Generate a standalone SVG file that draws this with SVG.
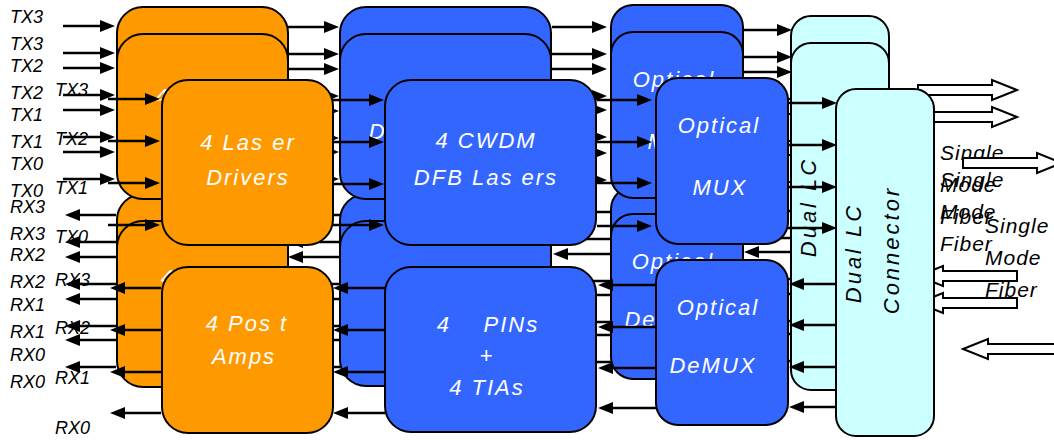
<svg xmlns="http://www.w3.org/2000/svg" width="1054" height="440" viewBox="0 0 1054 440">
<defs>
<style>
.o{fill:#FF9900;stroke:#000;stroke-width:2}
.b{fill:#3366FF;stroke:#000;stroke-width:2}
.c{fill:#CCFFFF;stroke:#000;stroke-width:2}
.a{stroke:#000;stroke-width:2.5;fill:none;marker-end:url(#ah)}
.h{fill:#fff;stroke:#000;stroke-width:2}
.t{font-family:"Liberation Sans",Arial,sans-serif;font-style:italic;font-size:22px;fill:#fff;text-anchor:middle;letter-spacing:2px;white-space:pre}
.v{font-family:"Liberation Sans",Arial,sans-serif;font-style:italic;font-size:22px;fill:#000;text-anchor:middle;letter-spacing:3px}
.l{font-family:"Liberation Sans",Arial,sans-serif;font-style:italic;font-size:18px;fill:#000}
.f{font-family:"Liberation Sans",Arial,sans-serif;font-style:italic;font-size:21px;fill:#000;letter-spacing:1px}
</style>
<marker id="ah" markerWidth="15" markerHeight="12" refX="5" refY="6" orient="auto" markerUnits="userSpaceOnUse"><path d="M0,0 L15,6 L0,12 z" fill="#000"/></marker>
</defs>
<rect width="1054" height="440" fill="#fff"/>

<g id="layer-back" transform="translate(-45,-73)">
<g id="back-labels"><text class="l" x="55" y="96">TX3</text><text class="l" x="55" y="145">TX2</text><text class="l" x="55" y="194">TX1</text><text class="l" x="55" y="243">TX0</text><text class="l" x="55" y="286">RX3</text><text class="l" x="55" y="334">RX2</text><text class="l" x="55" y="384">RX1</text><text class="l" x="55" y="434">RX0</text></g>
<g id="back-laser-drivers"><rect class="o" x="162" y="80" width="171" height="165" rx="26"/><text class="t" x="248" y="150">4 Las er</text><text class="t" x="248" y="185">Drivers</text></g>
<g id="back-post-amps"><rect class="o" x="162" y="267" width="171" height="166" rx="26"/><text class="t" x="247" y="331">4 Pos t</text><text class="t" x="244" y="364">Amps</text></g>
<g id="back-cwdm-lasers"><rect class="b" x="385" y="80" width="211" height="165" rx="26"/><text class="t" x="486" y="148">4 CWDM</text><text class="t" x="486" y="185">DFB Las ers</text></g>
<g id="back-pins-tias"><rect class="b" x="385" y="267" width="211" height="165" rx="26"/><text class="t" x="488" y="332" xml:space="preserve">4    PINs</text><text class="t" x="487" y="363">+</text><text class="t" x="487" y="395">4 TIAs</text></g>
<g id="back-optical-mux"><rect class="b" x="656" y="78" width="132" height="166" rx="22"/><text class="t" x="719" y="133">Optical</text><text class="t" x="720" y="195">MUX</text></g>
<g id="back-optical-demux"><rect class="b" x="656" y="260" width="132" height="165" rx="22"/><text class="t" x="718" y="315">Optical</text><text class="t" x="713" y="373">DeMUX</text></g>
<g id="back-dual-lc"><rect class="c" x="836" y="89" width="98" height="347" rx="20"/><text class="v" transform="translate(861,253) rotate(-90)">Dual LC</text><text class="v" transform="translate(899,250) rotate(-90)">Connector</text></g>
<g id="back-fiber"><text class="f" x="985" y="233">Single</text><text class="f" x="985" y="265">Mode</text><text class="f" x="985" y="297">Fiber</text></g>
<g id="back-connectors">
<line class="a" x1="108" y1="99" x2="150" y2="99"/><line class="a" x1="108" y1="141" x2="150" y2="141"/><line class="a" x1="108" y1="183" x2="150" y2="183"/><line class="a" x1="108" y1="225" x2="150" y2="225"/>
<line class="a" x1="161" y1="288" x2="120" y2="288"/><line class="a" x1="161" y1="330" x2="120" y2="330"/><line class="a" x1="161" y1="372" x2="120" y2="372"/><line class="a" x1="161" y1="413" x2="120" y2="413"/>
<line class="a" x1="333" y1="100" x2="374" y2="100"/><line class="a" x1="333" y1="142" x2="374" y2="142"/><line class="a" x1="333" y1="184" x2="374" y2="184"/><line class="a" x1="333" y1="225" x2="374" y2="225"/>
<line class="a" x1="385" y1="288" x2="343" y2="288"/><line class="a" x1="385" y1="330" x2="343" y2="330"/><line class="a" x1="385" y1="372" x2="343" y2="372"/><line class="a" x1="385" y1="413" x2="343" y2="413"/>
<line class="a" x1="597" y1="100" x2="642" y2="100"/><line class="a" x1="597" y1="142" x2="642" y2="142"/><line class="a" x1="597" y1="183" x2="642" y2="183"/><line class="a" x1="597" y1="226" x2="642" y2="226"/>
<line class="a" x1="656" y1="285" x2="608" y2="285"/><line class="a" x1="656" y1="327" x2="608" y2="327"/><line class="a" x1="656" y1="368" x2="608" y2="368"/><line class="a" x1="656" y1="408" x2="608" y2="408"/>
<line class="a" x1="788" y1="103" x2="827" y2="103"/><line class="a" x1="788" y1="145" x2="827" y2="145"/><line class="a" x1="788" y1="187" x2="827" y2="187"/><line class="a" x1="788" y1="228" x2="827" y2="228"/>
<line class="a" x1="836" y1="284" x2="799" y2="284"/><line class="a" x1="836" y1="325" x2="799" y2="325"/><line class="a" x1="836" y1="367" x2="799" y2="367"/><line class="a" x1="836" y1="407" x2="799" y2="407"/>
<polygon class="h" points="963,158 1037,158 1037,153 1062,163 1037,173 1037,168 963,168"/>
<polygon class="h" points="963,349 988,339 988,344 1062,344 1062,354 988,354 988,359"/>
</g>
</g>

<g id="layer-middle" transform="translate(-45,-46)">
<g id="mid-labels"><text class="l" x="55" y="96">TX3</text><text class="l" x="55" y="145">TX2</text><text class="l" x="55" y="194">TX1</text><text class="l" x="55" y="243">TX0</text><text class="l" x="55" y="286">RX3</text><text class="l" x="55" y="334">RX2</text><text class="l" x="55" y="384">RX1</text><text class="l" x="55" y="434">RX0</text></g>
<g id="mid-laser-drivers"><rect class="o" x="162" y="80" width="171" height="165" rx="26"/><text class="t" x="248" y="150">4 Las er</text><text class="t" x="248" y="185">Drivers</text></g>
<g id="mid-post-amps"><rect class="o" x="162" y="267" width="171" height="166" rx="26"/><text class="t" x="247" y="331">4 Pos t</text><text class="t" x="244" y="364">Amps</text></g>
<g id="mid-cwdm-lasers"><rect class="b" x="385" y="80" width="211" height="165" rx="26"/><text class="t" x="486" y="148">4 CWDM</text><text class="t" x="486" y="185">DFB Las ers</text></g>
<g id="mid-pins-tias"><rect class="b" x="385" y="267" width="211" height="165" rx="26"/><text class="t" x="488" y="332" xml:space="preserve">4    PINs</text><text class="t" x="487" y="363">+</text><text class="t" x="487" y="395">4 TIAs</text></g>
<g id="mid-optical-mux"><rect class="b" x="656" y="78" width="132" height="166" rx="22"/><text class="t" x="719" y="133">Optical</text><text class="t" x="720" y="195">MUX</text></g>
<g id="mid-optical-demux"><rect class="b" x="656" y="260" width="132" height="165" rx="22"/><text class="t" x="718" y="315">Optical</text><text class="t" x="713" y="373">DeMUX</text></g>
<g id="mid-dual-lc"><rect class="c" x="836" y="89" width="98" height="347" rx="20"/><text class="v" transform="translate(861,253) rotate(-90)">Dual LC</text><text class="v" transform="translate(899,250) rotate(-90)">Connector</text></g>
<g id="mid-fiber"><text class="f" x="985" y="233">Single</text><text class="f" x="985" y="265">Mode</text><text class="f" x="985" y="297">Fiber</text></g>
<g id="mid-connectors">
<line class="a" x1="108" y1="99" x2="150" y2="99"/><line class="a" x1="108" y1="141" x2="150" y2="141"/><line class="a" x1="108" y1="183" x2="150" y2="183"/><line class="a" x1="108" y1="225" x2="150" y2="225"/>
<line class="a" x1="161" y1="288" x2="120" y2="288"/><line class="a" x1="161" y1="330" x2="120" y2="330"/><line class="a" x1="161" y1="372" x2="120" y2="372"/><line class="a" x1="161" y1="413" x2="120" y2="413"/>
<line class="a" x1="333" y1="100" x2="374" y2="100"/><line class="a" x1="333" y1="142" x2="374" y2="142"/><line class="a" x1="333" y1="184" x2="374" y2="184"/><line class="a" x1="333" y1="225" x2="374" y2="225"/>
<line class="a" x1="385" y1="288" x2="343" y2="288"/><line class="a" x1="385" y1="330" x2="343" y2="330"/><line class="a" x1="385" y1="372" x2="343" y2="372"/><line class="a" x1="385" y1="413" x2="343" y2="413"/>
<line class="a" x1="597" y1="100" x2="642" y2="100"/><line class="a" x1="597" y1="142" x2="642" y2="142"/><line class="a" x1="597" y1="183" x2="642" y2="183"/><line class="a" x1="597" y1="226" x2="642" y2="226"/>
<line class="a" x1="656" y1="285" x2="608" y2="285"/><line class="a" x1="656" y1="327" x2="608" y2="327"/><line class="a" x1="656" y1="368" x2="608" y2="368"/><line class="a" x1="656" y1="408" x2="608" y2="408"/>
<line class="a" x1="788" y1="103" x2="827" y2="103"/><line class="a" x1="788" y1="145" x2="827" y2="145"/><line class="a" x1="788" y1="187" x2="827" y2="187"/><line class="a" x1="788" y1="228" x2="827" y2="228"/>
<line class="a" x1="836" y1="284" x2="799" y2="284"/><line class="a" x1="836" y1="325" x2="799" y2="325"/><line class="a" x1="836" y1="367" x2="799" y2="367"/><line class="a" x1="836" y1="407" x2="799" y2="407"/>
<polygon class="h" points="963,158 1037,158 1037,153 1062,163 1037,173 1037,168 963,168"/>
<polygon class="h" points="963,349 988,339 988,344 1062,344 1062,354 988,354 988,359"/>
</g>
</g>

<g id="layer-front">
<g id="front-labels"><text class="l" x="55" y="96">TX3</text><text class="l" x="55" y="145">TX2</text><text class="l" x="55" y="194">TX1</text><text class="l" x="55" y="243">TX0</text><text class="l" x="55" y="286">RX3</text><text class="l" x="55" y="334">RX2</text><text class="l" x="55" y="384">RX1</text><text class="l" x="55" y="434">RX0</text></g>
<g id="front-laser-drivers"><rect class="o" x="162" y="80" width="171" height="165" rx="26"/><text class="t" x="248" y="150">4 Las er</text><text class="t" x="248" y="185">Drivers</text></g>
<g id="front-post-amps"><rect class="o" x="162" y="267" width="171" height="166" rx="26"/><text class="t" x="247" y="331">4 Pos t</text><text class="t" x="244" y="364">Amps</text></g>
<g id="front-cwdm-lasers"><rect class="b" x="385" y="80" width="211" height="165" rx="26"/><text class="t" x="486" y="148">4 CWDM</text><text class="t" x="486" y="185">DFB Las ers</text></g>
<g id="front-pins-tias"><rect class="b" x="385" y="267" width="211" height="165" rx="26"/><text class="t" x="488" y="332" xml:space="preserve">4    PINs</text><text class="t" x="487" y="363">+</text><text class="t" x="487" y="395">4 TIAs</text></g>
<g id="front-optical-mux"><rect class="b" x="656" y="78" width="132" height="166" rx="22"/><text class="t" x="719" y="133">Optical</text><text class="t" x="720" y="195">MUX</text></g>
<g id="front-optical-demux"><rect class="b" x="656" y="260" width="132" height="165" rx="22"/><text class="t" x="718" y="315">Optical</text><text class="t" x="713" y="373">DeMUX</text></g>
<g id="front-dual-lc"><rect class="c" x="836" y="89" width="98" height="347" rx="20"/><text class="v" transform="translate(861,253) rotate(-90)">Dual LC</text><text class="v" transform="translate(899,250) rotate(-90)">Connector</text></g>
<g id="front-fiber"><text class="f" x="985" y="233">Single</text><text class="f" x="985" y="265">Mode</text><text class="f" x="985" y="297">Fiber</text></g>
<g id="front-connectors">
<line class="a" x1="108" y1="99" x2="150" y2="99"/><line class="a" x1="108" y1="141" x2="150" y2="141"/><line class="a" x1="108" y1="183" x2="150" y2="183"/><line class="a" x1="108" y1="225" x2="150" y2="225"/>
<line class="a" x1="161" y1="288" x2="120" y2="288"/><line class="a" x1="161" y1="330" x2="120" y2="330"/><line class="a" x1="161" y1="372" x2="120" y2="372"/><line class="a" x1="161" y1="413" x2="120" y2="413"/>
<line class="a" x1="333" y1="100" x2="374" y2="100"/><line class="a" x1="333" y1="142" x2="374" y2="142"/><line class="a" x1="333" y1="184" x2="374" y2="184"/><line class="a" x1="333" y1="225" x2="374" y2="225"/>
<line class="a" x1="385" y1="288" x2="343" y2="288"/><line class="a" x1="385" y1="330" x2="343" y2="330"/><line class="a" x1="385" y1="372" x2="343" y2="372"/><line class="a" x1="385" y1="413" x2="343" y2="413"/>
<line class="a" x1="597" y1="100" x2="642" y2="100"/><line class="a" x1="597" y1="142" x2="642" y2="142"/><line class="a" x1="597" y1="183" x2="642" y2="183"/><line class="a" x1="597" y1="226" x2="642" y2="226"/>
<line class="a" x1="656" y1="285" x2="608" y2="285"/><line class="a" x1="656" y1="327" x2="608" y2="327"/><line class="a" x1="656" y1="368" x2="608" y2="368"/><line class="a" x1="656" y1="408" x2="608" y2="408"/>
<line class="a" x1="788" y1="103" x2="827" y2="103"/><line class="a" x1="788" y1="145" x2="827" y2="145"/><line class="a" x1="788" y1="187" x2="827" y2="187"/><line class="a" x1="788" y1="228" x2="827" y2="228"/>
<line class="a" x1="836" y1="284" x2="799" y2="284"/><line class="a" x1="836" y1="325" x2="799" y2="325"/><line class="a" x1="836" y1="367" x2="799" y2="367"/><line class="a" x1="836" y1="407" x2="799" y2="407"/>
<polygon class="h" points="963,158 1037,158 1037,153 1062,163 1037,173 1037,168 963,168"/>
<polygon class="h" points="963,349 988,339 988,344 1062,344 1062,354 988,354 988,359"/>
</g>
</g>
</svg>
